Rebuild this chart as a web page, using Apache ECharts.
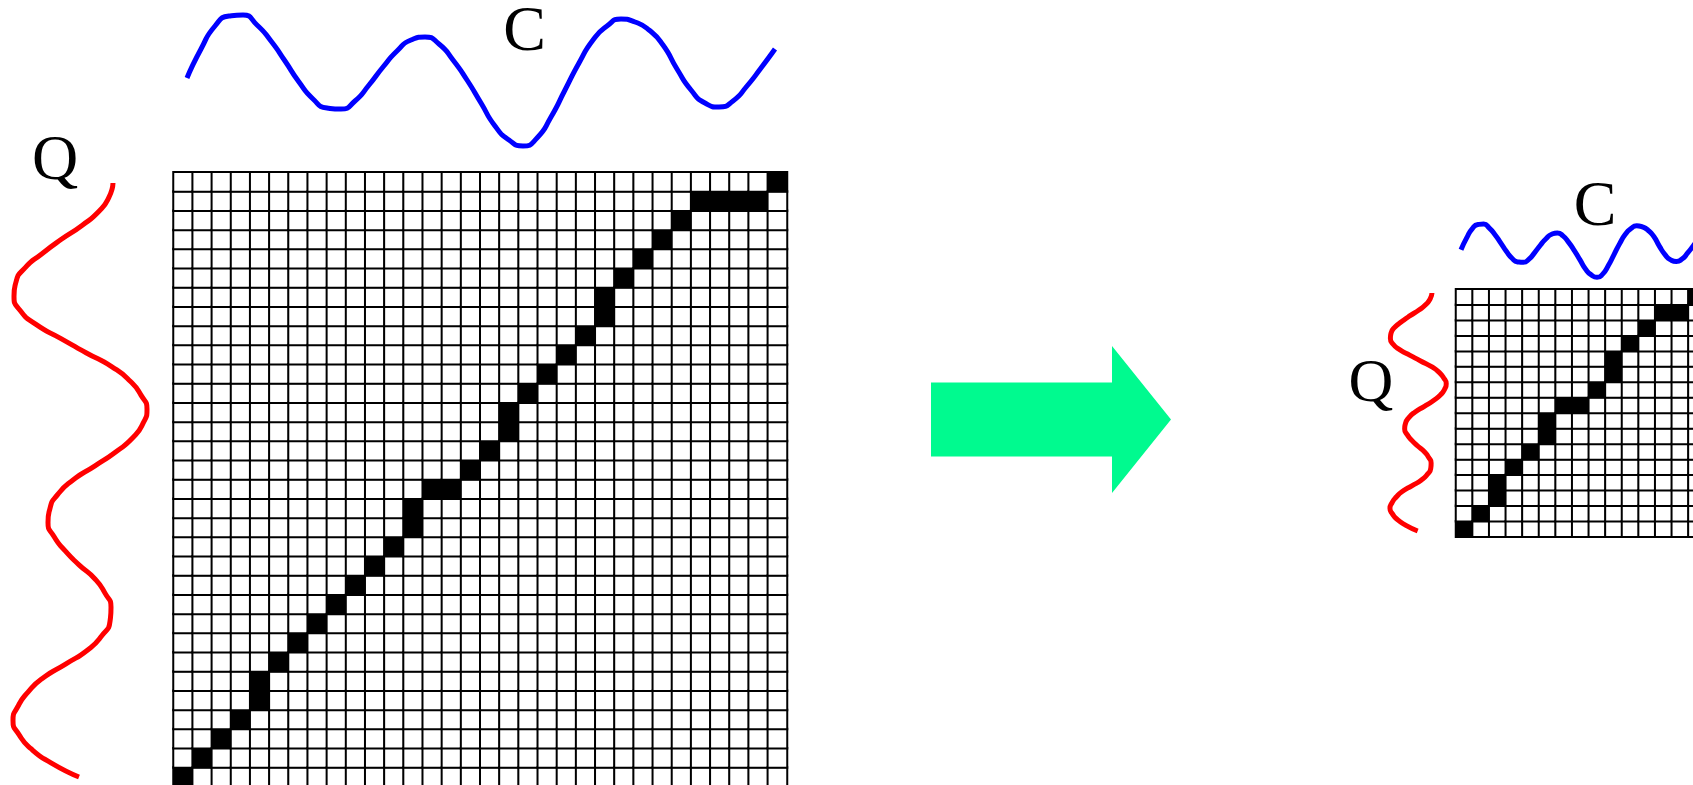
<!DOCTYPE html>
<html>
<head>
<meta charset="utf-8">
<script src="https://cdn.jsdelivr.net/npm/echarts@6/dist/echarts.min.js"></script>
<style>
html,body{margin:0;padding:0;background:#fff;}
#chart{width:1693px;height:785px;}
</style>
</head>
<body>
<div id="chart"></div>
<script>
// Time series C (candidate), amplitude samples at equal time steps
var seriesC = [72,101,124,134,135,125,109,89,68,51,42,41,49,65,83,99,110,113,106,90,70,47,24,10,4,12,33,60,87,110,124,131,128,120,105,81,60,47,43,49,64,82,101];
// Time series Q (query), amplitude samples at equal time steps
var seriesQ = [113,109,99,82,61,42,25,16,14,20,36,61,86,112,130,141,147,143,133,116,95,73,58,50,48,54,65,79,95,105,111,110,102,88,66,43,28,18,13,19,31,51,79];
// Labels
var labelC = 'C';
var labelQ = 'Q';
// Warping path on the full-resolution 32x32 matrix: [column, row] (row 0 = bottom)
var bigSize = 32;
var bigPath = [[0,0],[1,1],[2,2],[3,3],[4,4],[4,5],[5,6],[6,7],[7,8],[8,9],[9,10],[10,11],[11,12],[12,13],[12,14],[13,15],[14,15],[15,16],[16,17],[17,18],[17,19],[18,20],[19,21],[20,22],[21,23],[22,24],[22,25],[23,26],[24,27],[25,28],[26,29],[27,30],[28,30],[29,30],[30,30],[31,31]];
// Warping path on the coarse 16x16 matrix
var smallSize = 16;
var smallPath = [[0,0],[1,1],[2,2],[2,3],[3,4],[4,5],[5,6],[5,7],[6,8],[7,8],[8,9],[9,10],[9,11],[10,12],[11,13],[12,14],[13,14],[14,15],[15,15]];

function buildCells(n, path) {
  var set = {};
  path.forEach(function (p) { set[p[0] + '_' + p[1]] = 1; });
  var out = [];
  for (var c = 0; c < n; c++) {
    for (var r = 0; r < n; r++) {
      out.push([c, r, set[c + '_' + r] ? 1 : 0]);
    }
  }
  return out;
}
function idx(n) { var a = []; for (var i = 0; i < n; i++) a.push(String(i)); return a; }

var nC = seriesC.length - 1;
var nQ = seriesQ.length - 1;

var chart = echarts.init(document.getElementById('chart'), null, {renderer: 'canvas'});

var hidden = {show: false};
function valAxis(gi, min, max, extra) {
  var o = {type: 'value', gridIndex: gi, min: min, max: max, show: false,
    axisLine: hidden, axisTick: hidden, axisLabel: hidden, splitLine: hidden};
  if (extra) for (var k in extra) o[k] = extra[k];
  return o;
}
function catAxis(gi, n) {
  return {type: 'category', gridIndex: gi, data: idx(n), show: false,
    axisLine: hidden, axisTick: hidden, axisLabel: hidden, splitLine: hidden, splitArea: hidden};
}
function letter(text, x, y, size) {
  return {type: 'text', x: x, y: y, style: {text: text, fontSize: size, fontFamily: 'Liberation Serif',
    fill: '#000', align: 'center', verticalAlign: 'middle'}};
}

var option = {
  animation: false,
  backgroundColor: '#ffffff',
  grid: [
    {left: 187, top: 0, width: 588, height: 150, outerBoundsMode: 'none'},
    {left: 0, top: 183, width: 150, height: 594, outerBoundsMode: 'none'},
    {left: 173.5, top: 172.3, width: 613.5, height: 614.4, outerBoundsMode: 'none'},
    {left: 1461, top: 218, width: 238, height: 61, outerBoundsMode: 'none'},
    {left: 1384.5, top: 293, width: 63, height: 238, outerBoundsMode: 'none'},
    {left: 1456, top: 289.3, width: 265.6, height: 247.4, outerBoundsMode: 'none'}
  ],
  xAxis: [
    valAxis(0, 0, nC),
    valAxis(1, 0, 150),
    catAxis(2, bigSize),
    valAxis(3, 0, nC),
    valAxis(4, 0, 150),
    catAxis(5, smallSize)
  ],
  yAxis: [
    valAxis(0, 0, 150),
    valAxis(1, 0, nQ, {inverse: true}),
    catAxis(2, bigSize),
    valAxis(3, 0, 150),
    valAxis(4, 0, nQ, {inverse: true}),
    catAxis(5, smallSize)
  ],
  visualMap: {
    show: false, type: 'continuous', min: 0, max: 1, seriesIndex: [2, 5],
    inRange: {color: ['#ffffff', '#000000']}
  },
  series: [
    {type: 'line', xAxisIndex: 0, yAxisIndex: 0, symbol: 'none', smooth: 0.6, clip: false,
     lineStyle: {color: '#0000ff', width: 5}, data: seriesC.map(function (v, i) { return [i, v]; })},
    {type: 'line', xAxisIndex: 1, yAxisIndex: 1, symbol: 'none', smooth: 0.6, clip: false,
     lineStyle: {color: '#ff0000', width: 5}, data: seriesQ.map(function (v, i) { return [v, i]; })},
    {type: 'heatmap', xAxisIndex: 2, yAxisIndex: 2, data: buildCells(bigSize, bigPath),
     itemStyle: {borderColor: '#000000', borderWidth: 2}, emphasis: {disabled: true}},
    {type: 'line', xAxisIndex: 3, yAxisIndex: 3, symbol: 'none', smooth: 0.6, clip: false,
     lineStyle: {color: '#0000ff', width: 5}, data: seriesC.map(function (v, i) { return [i, v]; })},
    {type: 'line', xAxisIndex: 4, yAxisIndex: 4, symbol: 'none', smooth: 0.6, clip: false,
     lineStyle: {color: '#ff0000', width: 5}, data: seriesQ.map(function (v, i) { return [v, i]; })},
    {type: 'heatmap', xAxisIndex: 5, yAxisIndex: 5, data: buildCells(smallSize, smallPath),
     itemStyle: {borderColor: '#000000', borderWidth: 2}, emphasis: {disabled: true}}
  ],
  graphic: [
    {type: 'polygon', shape: {points: [[931,382.5],[1112,382.5],[1112,346],[1171,419.5],[1112,493],[1112,456.5],[931,456.5]]},
     style: {fill: '#00fa8f'}},
    letter(labelC, 524.5, 33, 64),
    letter(labelQ, 55, 162, 64),
    letter(labelC, 1595, 208, 64),
    letter(labelQ, 1371, 385, 62)
  ]
};
chart.setOption(option);
</script>
</body>
</html>
